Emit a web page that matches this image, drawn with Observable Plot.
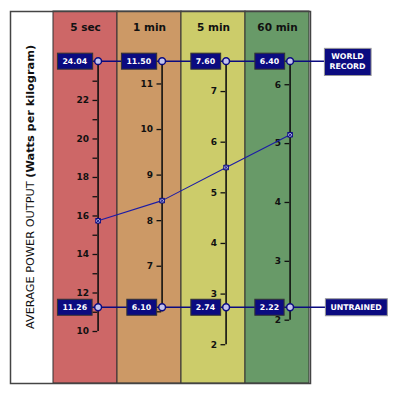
<!DOCTYPE html>
<html>
<head>
<meta charset="utf-8">
<script src="https://cdn.jsdelivr.net/npm/d3@7"></script>
<script src="https://cdn.jsdelivr.net/npm/@observablehq/plot@0.6"></script>
<style>
  html, body { margin: 0; padding: 0; background: white; }
</style>
</head>
<body>
<div id="chart"></div>
<script>
// ---- data ----
const periods = ["5 sec", "1 min", "5 min", "60 min"];
const columnColors = ["#cd6767", "#cc9966", "#cccc6a", "#689a68"];
const worldRecord = [24.04, 11.50, 7.60, 6.40];
const untrained = [11.26, 6.10, 2.74, 2.22];
const athlete = [15.75, 8.44, 5.50, 5.15];
const ticks5sec = [10, 11, 12, 13, 14, 15, 16, 17, 18, 19, 20, 21, 22, 23];
const labels5sec = [10, 12, 14, 16, 18, 20, 22];
const ticks1min = [6, 7, 8, 9, 10, 11];
const ticks5min = [2, 3, 4, 5, 6, 7];
const ticks60min = [2, 3, 4, 5, 6];
const axisTicks = [ticks5sec, ticks1min, ticks5min, ticks60min];
const axisLabels = [labels5sec, ticks1min, ticks5min, ticks60min];
const yTitleMain = "AVERAGE POWER OUTPUT ";
const yTitleSub = "(Watts per kilogram)";
const legendTop = "WORLD\nRECORD";
const legendBottom = "UNTRAINED";

// Each column has its own axis; all are drawn on one shared y scale
// expressed in the units of the first (5 sec) axis, anchored at the
// untrained and world-record values.
const toShared = (i, v) =>
  untrained[0] + (v - untrained[i]) / (worldRecord[i] - untrained[i]) * (worldRecord[0] - untrained[0]);

const navy = "#0b0b80";
const axisDx = 12.6;

const columns = periods.map((p, i) => ({period: p, color: columnColors[i]}));
const axes = periods.map((p, i) => ({period: p, lo: toShared(i, d3.min(axisTicks[i])), hi: toShared(i, worldRecord[i])}));
const tickData = periods.flatMap((p, i) => axisTicks[i].map(v => ({period: p, v, y: toShared(i, v)})));
const labelData = periods.flatMap((p, i) => axisLabels[i].map(v => ({period: p, v, y: toShared(i, v)})));
const wrData = periods.map((p, i) => ({period: p, v: worldRecord[i], y: toShared(i, worldRecord[i])}));
const utData = periods.map((p, i) => ({period: p, v: untrained[i], y: toShared(i, untrained[i])}));
const athData = periods.map((p, i) => ({period: p, v: athlete[i], y: toShared(i, athlete[i])}));

const svg = Plot.plot({
  width: 400,
  height: 396,
  marginTop: 11,
  marginBottom: 13,
  marginLeft: 51,
  marginRight: 90,
  style: {fontFamily: "DejaVu Sans", background: "white", overflow: "visible"},
  x: {type: "band", domain: periods, padding: 0, axis: null},
  y: {domain: [7.30, 26.62], axis: null},
  color: {type: "identity"},
  marks: [
    Plot.frame({fill: "white", insetLeft: -41}),
    Plot.cell(columns, {x: "period", fill: "color", stroke: "#333", strokeWidth: 1}),
    Plot.frame({stroke: "#444", strokeWidth: 1.5, insetLeft: -41}),
    Plot.text(periods, {x: d => d, frameAnchor: "top", lineAnchor: "middle", dy: 16, text: d => d, fontSize: 10.5, fontWeight: "bold", fill: "#111"}),
    Plot.text([yTitleMain + yTitleSub], {frameAnchor: "left", textAnchor: "middle", lineAnchor: "middle", dx: -21, dy: -10.5, rotate: -90, fontSize: 11.3, fill: "#111", className: "ytitle"}),
    // per-column axes
    Plot.tickY(tickData, {x: "period", y: "y", insetLeft: 39.5, insetRight: 64.75 - axisDx - 32.375, stroke: "#111", strokeWidth: 1.3}),
    Plot.text(labelData, {x: "period", y: "y", text: d => String(d.v), textAnchor: "end", dx: axisDx - 9, fontSize: 9, fontWeight: "bold", fill: "#111"}),
    Plot.ruleX(axes, {x: "period", y1: "lo", y2: "hi", dx: axisDx, stroke: "#111", strokeWidth: 1.6}),
    // reference lines
    Plot.ruleY([wrData[0].y], {insetLeft: 39, insetRight: -16, stroke: navy, strokeWidth: 1.5}),
    Plot.ruleY([utData[0].y], {insetLeft: 39, insetRight: -16, stroke: navy, strokeWidth: 1.5}),
    // athlete profile
    Plot.line(athData, {x: "period", y: "y", dx: axisDx, stroke: "#1c1ca6", strokeWidth: 1.1}),
    Plot.dot(athData, {x: "period", y: "y", dx: axisDx, symbol: "square", r: 2.6, fill: "#c0c0ee", stroke: navy, strokeWidth: 1}),
    Plot.dot(athData, {x: "period", y: "y", dx: axisDx, symbol: "times", r: 2.2, stroke: navy, strokeWidth: 1}),
    Plot.dot(wrData.concat(utData), {x: "period", y: "y", dx: axisDx, r: 3.4, fill: "#c4c4ee", stroke: navy, strokeWidth: 1.5}),
    // value boxes
    Plot.text(wrData.concat(utData), {x: "period", y: "y", text: d => d.v.toFixed(2), textAnchor: "end", dx: axisDx - 11, fontSize: 7.8, fontWeight: "bold", fill: "white", className: "vbox"}),
    // legend boxes
    Plot.text([wrData[3]], {x: "period", y: "y", text: () => legendTop, dx: 70, lineHeight: 1.3, fontSize: 7.8, fontWeight: "bold", fill: "white", className: "lbox"}),
    Plot.text([utData[3]], {x: "period", y: "y", text: () => legendBottom, dx: 78.6, fontSize: 7.8, fontWeight: "bold", fill: "white", className: "lbox"})
  ]
});

document.getElementById("chart").append(svg);

// draw the boxes behind the value/legend labels, sized to the text
function boxify(cls, padX, padY, minH, stroke) {
  svg.querySelectorAll(`g.${cls} text`).forEach(t => {
    const b = t.getBBox();
    const h = Math.max(minH, b.height + 2 * padY);
    const r = document.createElementNS("http://www.w3.org/2000/svg", "rect");
    r.setAttribute("x", b.x - padX);
    r.setAttribute("y", b.y + b.height / 2 - h / 2);
    r.setAttribute("width", b.width + 2 * padX);
    r.setAttribute("height", h);
    r.setAttribute("fill", navy);
    r.setAttribute("stroke", stroke);
    r.setAttribute("stroke-width", 1);
    const tr = t.getAttribute("transform");
    if (tr) r.setAttribute("transform", tr);
    t.parentNode.insertBefore(r, t);
  });
}
boxify("vbox", 5, 3, 16, "#333");
boxify("lbox", 5, 4, 17, "#999");

// mixed-weight axis title
const tt = svg.querySelector("g.ytitle text");
if (tt) {
  tt.textContent = "";
  const a = document.createElementNS("http://www.w3.org/2000/svg", "tspan");
  a.textContent = yTitleMain;
  const b = document.createElementNS("http://www.w3.org/2000/svg", "tspan");
  b.textContent = yTitleSub;
  b.setAttribute("font-weight", "bold");
  tt.append(a, b);
}
</script>
</body>
</html>
